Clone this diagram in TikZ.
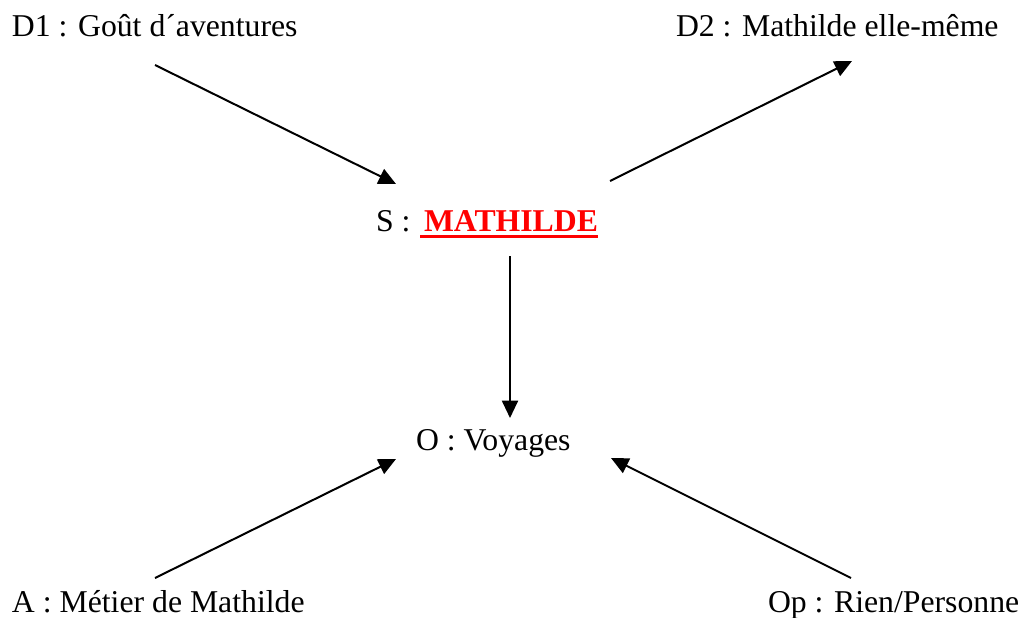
\documentclass[tikz,border=0pt]{standalone}
\usepackage{fontspec}
\setmainfont{Liberation Serif}
\usetikzlibrary{arrows.meta}
\definecolor{pured}{RGB}{255,0,0}
\tikzset{
  lbl/.style={inner sep=0pt, outer sep=0pt, anchor=base west, font=\fontsize{23.8}{28}\selectfont},
  conn/.style={line width=1.5pt, -{Triangle[length=13pt,width=12pt]}}
}
\begin{document}
\begin{tikzpicture}[x=0.75pt,y=-0.75pt]
\useasboundingbox (0,0) rectangle (1023,617);
\node[lbl] (d1) at (12,37) {D1 : Goût d´aventures};
\node[lbl] (d2) at (676,37) {D2 : Mathilde elle-même};
\node[lbl] (s) at (376,231) {S :\ };
\node[lbl, text=pured, font=\fontsize{23.8}{28}\selectfont\bfseries] (m) at (424,231) {MATHILDE};
\draw[pured, line width=2.2pt] ([yshift=-4pt,xshift=-3pt]m.base west) -- ([yshift=-4pt]m.base east);
\node[lbl] (o) at (416,450) {O : Voyages};
\node[lbl] (a) at (12,612) {A : Métier de Mathilde};
\node[lbl] (op) at (768,612) {Op : Rien/Personne};
\coordinate (d1s) at (155,65);
\coordinate (d1e) at (396,184);
\coordinate (d2s) at (610,181);
\coordinate (d2e) at (852,61);
\coordinate (ss) at (510,256);
\coordinate (se) at (510,418);
\coordinate (as) at (155,578);
\coordinate (ae) at (396,459);
\coordinate (ops) at (851,578);
\coordinate (ope) at (611,458);
\draw[conn] (d1s) -- (d1e);
\draw[conn] (d2s) -- (d2e);
\draw[conn] (ss) -- (se);
\draw[conn] (as) -- (ae);
\draw[conn] (ops) -- (ope);
\end{tikzpicture}
\end{document}
